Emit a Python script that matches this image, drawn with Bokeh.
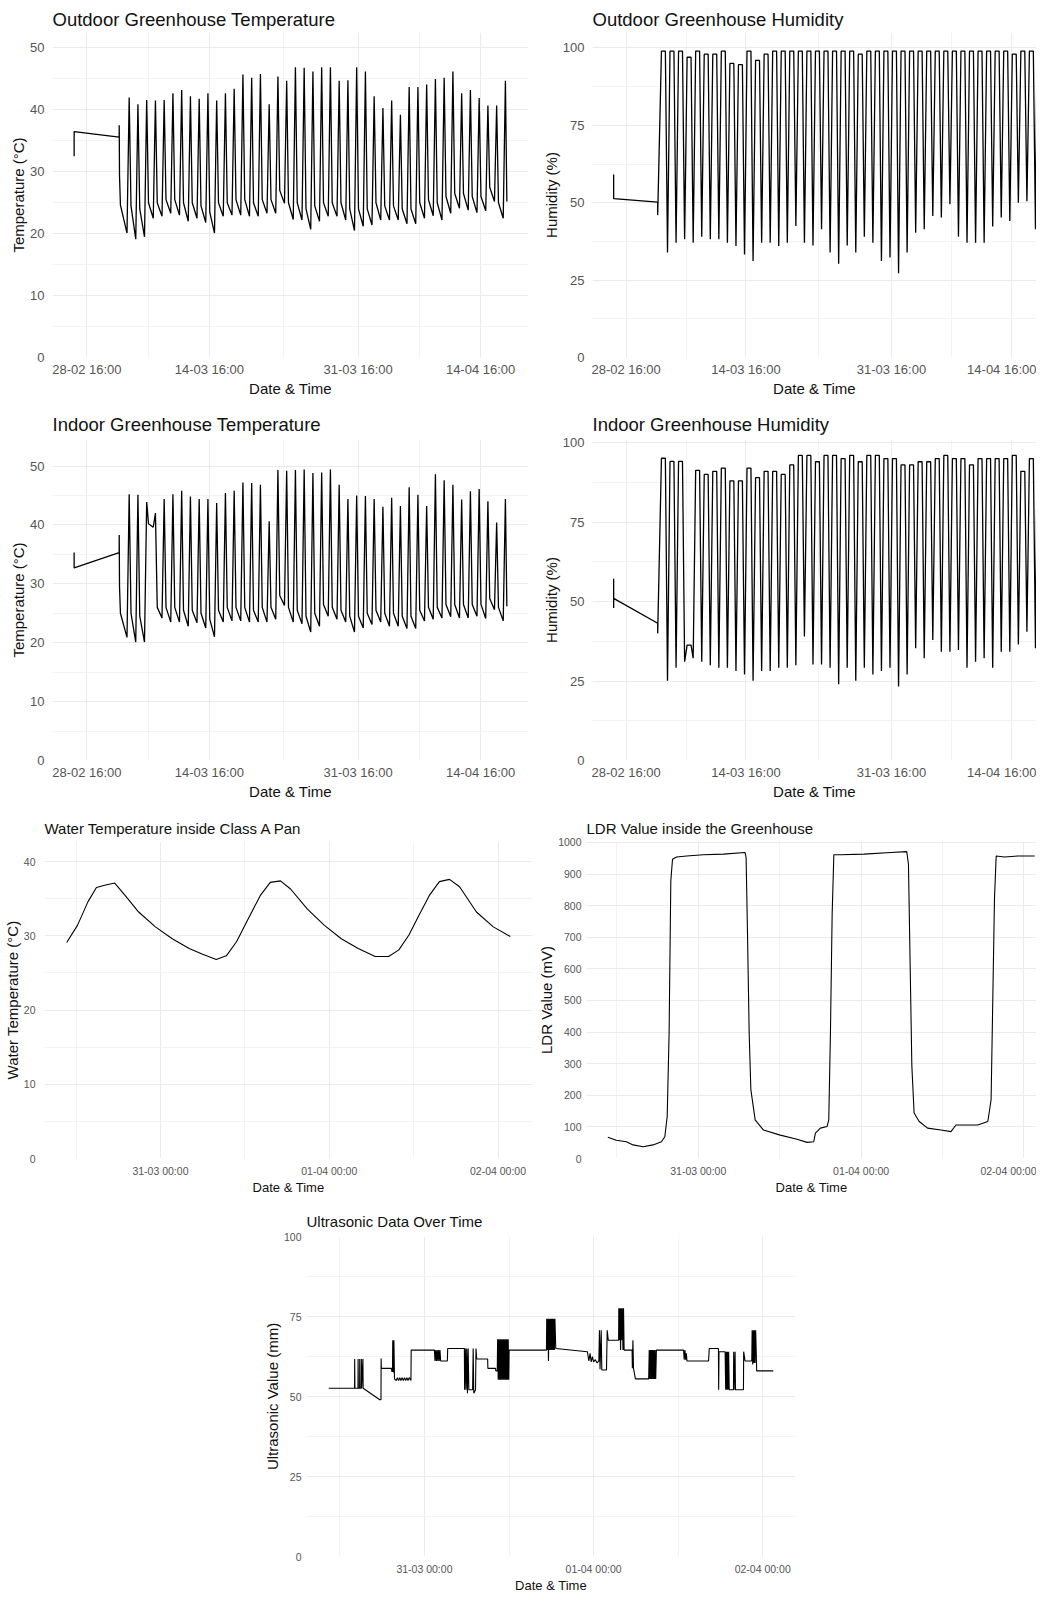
import pandas as pd
from bokeh.plotting import figure
from bokeh.layouts import column, row
from bokeh.models import FixedTicker, DatetimeTickFormatter, Range1d, Spacer
from bokeh.embed import file_html
from bokeh.resources import INLINE

YEAR = 2023

# ---------------- data ----------------
# Outdoor temperature (deg C): lead-in points, then per day (05-03 .. 17-04) a night minimum,
# a midday maximum and an evening value
out_temp_lead_time = ["02-27 05:00", "02-27 05:00", "03-04 08:30", "03-04 08:40", "03-04 09:30", "03-04 12:00"]
out_temp_lead_value = [32.5, 36.5, 35.6, 37.5, 29.3, 24.6]
out_temp_min = [20.1, 19.1, 19.5, 22.5, 22.8, 23.3, 23.0, 22.0, 22.5, 21.8,
                20.1, 22.8, 23.0, 23.0, 22.8, 22.8, 23.3, 23.3, 24.9, 22.3,
                22.2, 20.7, 22.0, 22.8, 22.8, 22.2, 20.5, 21.2, 21.4, 22.2,
                22.2, 22.2, 21.6, 21.6, 22.5, 22.9, 22.2, 23.3, 24.1, 23.8,
                23.4, 23.7, 25.2, 22.5]
out_temp_max = [42.0, 40.9, 41.6, 41.5, 41.6, 42.7, 43.2, 42.2, 41.8, 42.7,
                41.5, 42.7, 43.4, 45.7, 45.2, 45.8, 40.9, 45.4, 44.7, 46.9,
                46.8, 46.2, 46.9, 46.9, 44.7, 44.8, 46.9, 46.2, 42.2, 40.3,
                41.5, 39.2, 43.7, 43.7, 44.1, 45.0, 45.2, 46.2, 42.7, 43.2,
                41.9, 40.7, 40.7, 44.7]
out_temp_eve = [24.5, 24.0, 25.0, 25.0, 25.5, 25.5, 25.0, 25.0, 24.5, 23.5,
                25.0, 25.0, 25.5, 25.5, 25.0, 25.5, 25.5, 27.0, 25.0, 25.0,
                24.0, 24.5, 25.0, 25.0, 25.0, 24.0, 24.0, 24.0, 25.0, 24.5,
                24.5, 24.0, 24.0, 25.0, 25.5, 25.0, 26.0, 26.5, 26.5, 26.0,
                26.0, 27.5, 25.0]
out_temp_end = ("04-17 16:00", 25.2)

# Outdoor humidity (%): night maximum (plateau) and midday minimum per day
out_hum_lead_time = ["02-27 05:00", "02-27 05:00", "03-04 08:30", "03-04 08:30"]
out_hum_lead_value = [59.1, 51.3, 50.2, 46.0]
out_hum_max = [99, 99, 99, 97, 99, 98, 98, 99, 95, 94.6,
               99, 96, 98, 99, 99, 99, 99, 99, 99, 99,
               99, 99, 99, 98, 99, 99, 99, 99, 99, 99,
               99, 99, 99, 99, 99, 99, 99, 99, 99, 99,
               99, 98, 99, 99]
out_hum_min = [33.9, 37.1, 38.2, 37.1, 39.0, 38.2, 38.2, 37.1, 36.0, 33.3,
               31.2, 37.1, 37.1, 36.0, 37.1, 42.5, 37.1, 36.2, 41.4, 33.9,
               30.3, 36.2, 33.9, 39.0, 37.1, 31.2, 32.3, 27.2, 33.9, 40.3,
               41.4, 45.7, 45.2, 49.5, 39.0, 37.1, 37.1, 37.1, 42.3, 45.2,
               44.1, 50.0, 50.5, 41.4]
out_hum_end = ("04-17 16:00", 97.1)

# Indoor temperature (deg C)
in_temp_lead_time = ["02-27 05:00", "02-27 05:00", "03-04 08:30", "03-04 08:40", "03-04 09:30", "03-04 12:00"]
in_temp_lead_value = [35.3, 32.7, 35.3, 38.3, 29.5, 25.0]
in_temp_min = [20.9, 20.1, 20.1, 39.6, 24.2, 23.5, 23.5, 22.8, 23.4, 22.5,
               21.0, 23.5, 23.7, 23.7, 23.5, 23.5, 23.5, 24.0, 26.3, 23.5,
               23.2, 21.8, 22.8, 24.5, 24.0, 23.5, 21.8, 22.5, 23.1, 23.5,
               22.8, 22.8, 22.4, 22.4, 23.7, 24.0, 24.2, 24.4, 24.2, 24.2,
               24.5, 24.1, 25.6, 23.7]
in_temp_max = [45.2, 45.1, 43.9, 42.0, 44.4, 45.2, 45.8, 44.8, 44.4, 44.4,
               43.7, 45.4, 45.8, 47.2, 47.1, 46.8, 40.6, 49.3, 49.2, 49.3,
               49.4, 48.8, 48.9, 49.4, 46.8, 44.4, 45.0, 44.9, 44.4, 43.1,
               44.6, 43.2, 46.4, 45.1, 43.2, 48.6, 47.6, 46.8, 44.3, 45.7,
               46.1, 44.0, 40.4, 44.4]
in_temp_eve = [25.0, 24.5, 40.2, 26.0, 26.0, 26.0, 25.5, 25.5, 25.0, 24.0,
               25.5, 26.0, 26.0, 26.0, 25.5, 26.0, 26.0, 28.0, 26.0, 25.5,
               24.5, 25.0, 26.5, 26.0, 25.5, 24.5, 24.5, 25.0, 25.5, 25.0,
               25.0, 24.5, 24.5, 25.5, 26.0, 26.0, 26.5, 26.5, 26.5, 26.5,
               26.5, 27.5, 26.0]
in_temp_end = ("04-17 16:00", 26.2)

# Indoor humidity (%)
in_hum_lead_time = ["02-27 05:00", "02-27 05:00", "02-27 05:00", "03-04 08:30", "03-04 08:30"]
in_hum_lead_value = [57.2, 48.0, 51.0, 43.2, 40.0]
in_hum_max = [95.1, 94.1, 94.1, 36.3, 91.3, 90, 91, 92, 88, 88,
              92, 89, 91, 91, 90, 93, 96, 96, 94, 96,
              96, 95, 96, 94, 96, 96, 95, 95, 93, 93,
              94, 94, 95, 96, 95, 95, 93, 95, 95, 95,
              95, 96, 91, 95]
in_hum_min = [25.1, 29.2, 31.1, 32.2, 31.1, 30.0, 29.2, 29.2, 28.2, 27.1,
              25.1, 28.2, 28.2, 29.2, 29.2, 30.0, 39.0, 30.2, 30.2, 29.2,
              24.0, 29.2, 25.1, 29.2, 27.1, 28.2, 29.2, 23.3, 27.1, 35.3,
              32.2, 37.9, 34.2, 34.2, 34.8, 29.2, 31.1, 32.2, 29.2, 34.2,
              34.2, 36.5, 40.5, 35.3]
in_hum_end = ("04-17 16:00", 90.1)

# Water temperature inside Class A pan (deg C)
water_time = ["03-30 10:40", "03-30 12:12", "03-30 13:42", "03-30 14:54", "03-30 16:04", "03-30 17:30",
              "03-30 19:00", "03-30 20:54", "03-30 23:17", "03-31 01:41", "03-31 04:05", "03-31 06:00",
              "03-31 07:56", "03-31 09:22", "03-31 10:49", "03-31 12:16", "03-31 14:11", "03-31 15:37",
              "03-31 17:04", "03-31 18:30", "03-31 20:54", "03-31 23:19", "04-01 01:43", "04-01 04:07",
              "04-01 06:32", "04-01 08:27", "04-01 09:54", "04-01 11:20", "04-01 12:47", "04-01 14:13",
              "04-01 15:40", "04-01 17:06", "04-01 18:32", "04-01 20:56", "04-01 23:20", "04-02 01:45"]
water_value = [29.1, 31.4, 34.6, 36.5, 36.8, 37.1, 35.4, 33.2, 31.2, 29.6, 28.3, 27.5,
               26.8, 27.3, 29.2, 31.9, 35.4, 37.2, 37.4, 36.3, 33.6, 31.4, 29.6, 28.3,
               27.2, 27.2, 28.1, 30.1, 32.8, 35.4, 37.3, 37.6, 36.6, 33.2, 31.2, 29.9]

# LDR value (mV)
ldr_time = ["03-30 10:40", "03-30 11:55", "03-30 13:24", "03-30 14:23", "03-30 15:52", "03-30 17:20",
            "03-30 18:34", "03-30 19:04", "03-30 19:25", "03-30 19:42", "03-30 19:57", "03-30 20:12",
            "03-30 20:48", "03-30 22:17", "03-31 00:44", "03-31 03:42", "03-31 06:54", "03-31 07:03",
            "03-31 07:15", "03-31 07:30", "03-31 07:45", "03-31 08:23", "03-31 09:37", "03-31 12:05",
            "03-31 14:33", "03-31 16:02", "03-31 17:01", "03-31 17:16", "03-31 18:00", "03-31 18:59",
            "03-31 19:14", "03-31 19:29", "03-31 19:44", "03-31 19:59", "03-31 20:58", "04-01 00:25",
            "04-01 04:22", "04-01 06:44", "04-01 06:59", "04-01 07:14", "04-01 07:29", "04-01 07:49",
            "04-01 08:34", "04-01 09:48", "04-01 11:46", "04-01 13:15", "04-01 13:59", "04-01 15:13",
            "04-01 17:12", "04-01 18:41", "04-01 19:10", "04-01 19:25", "04-01 19:40", "04-01 19:55",
            "04-01 21:09", "04-01 23:07", "04-02 01:35"]
ldr_value = [67, 58, 53, 43, 37, 43, 53, 69, 133, 399,
             878, 947, 954, 957, 961, 963, 968, 952, 718, 399,
             218, 122, 90, 74, 61, 51, 53, 80, 96, 101,
             122, 399, 771, 961, 961, 963, 968, 971, 931, 612,
             293, 144, 117, 96, 90, 85, 106, 106, 106, 117,
             186, 505, 824, 957, 954, 957, 957]

# Ultrasonic value (mm)
ultra_time = [
    "03-30 10:25", "03-30 14:05", "03-30 14:06", "03-30 14:08", "03-30 14:34", "03-30 14:35", "03-30 14:37",
    "03-30 14:48", "03-30 14:49", "03-30 14:51", "03-30 15:02", "03-30 15:03", "03-30 15:05", "03-30 15:16",
    "03-30 15:18", "03-30 17:40", "03-30 17:50", "03-30 17:51", "03-30 17:53", "03-30 19:20", "03-30 19:22",
    "03-30 19:28", "03-30 19:30", "03-30 19:36", "03-30 19:40", "03-30 19:45",
    "03-30 20:00", "03-30 20:10", "03-30 20:20", "03-30 20:30", "03-30 20:40", "03-30 20:50", "03-30 21:00",
    "03-30 21:10", "03-30 21:20", "03-30 21:30", "03-30 21:40", "03-30 21:50", "03-30 22:05",
    "03-30 22:07", "03-31 01:25",
    "03-31 01:30", "03-31 01:36", "03-31 01:42", "03-31 01:48", "03-31 01:54", "03-31 02:00", "03-31 02:06",
    "03-31 02:12", "03-31 02:18", "03-31 03:15", "03-31 03:18", "03-31 05:40",
    "03-31 05:42", "03-31 05:48", "03-31 05:54", "03-31 06:00", "03-31 06:06", "03-31 06:12", "03-31 06:18",
    "03-31 06:50", "03-31 06:55", "03-31 07:00", "03-31 07:15", "03-31 07:19", "03-31 07:25", "03-31 08:58",
    "03-31 09:00", "03-31 10:05", "03-31 10:08", "03-31 10:20",
    "03-31 10:23", "03-31 10:28", "03-31 10:33", "03-31 10:38", "03-31 10:43", "03-31 10:48", "03-31 10:53",
    "03-31 10:58", "03-31 11:03", "03-31 11:08", "03-31 11:13", "03-31 11:18", "03-31 11:23", "03-31 11:28",
    "03-31 11:33", "03-31 11:38", "03-31 11:43", "03-31 11:48", "03-31 11:53", "03-31 11:58",
    "03-31 12:01", "03-31 17:19",
    "03-31 17:21", "03-31 17:26", "03-31 17:31", "03-31 17:36", "03-31 17:41", "03-31 17:46", "03-31 17:51",
    "03-31 17:56", "03-31 18:01", "03-31 18:06", "03-31 18:11", "03-31 18:16", "03-31 18:21", "03-31 18:26",
    "03-31 18:31", "03-31 18:38", "03-31 23:07",
    "03-31 23:20", "03-31 23:30", "03-31 23:40", "03-31 23:50", "04-01 00:00", "04-01 00:15", "04-01 00:30",
    "04-01 00:45", "04-01 00:50", "04-01 00:55", "04-01 01:05", "04-01 01:10", "04-01 01:50", "04-01 01:56",
    "04-01 02:05", "04-01 03:33",
    "04-01 03:35", "04-01 03:40", "04-01 03:45", "04-01 03:50", "04-01 03:55", "04-01 04:00", "04-01 04:05",
    "04-01 04:10", "04-01 04:15", "04-01 04:20", "04-01 04:32", "04-01 05:28", "04-01 05:30", "04-01 05:35",
    "04-01 05:40", "04-01 05:56", "04-01 07:49",
    "04-01 07:54", "04-01 07:59", "04-01 08:04", "04-01 08:09", "04-01 08:14", "04-01 08:19", "04-01 08:24",
    "04-01 08:29", "04-01 08:34", "04-01 08:39", "04-01 08:44", "04-01 08:49", "04-01 08:55",
    "04-01 12:46", "04-01 12:52", "04-01 12:58", "04-01 13:04", "04-01 13:10", "04-01 13:15",
    "04-01 16:19", "04-01 16:25", "04-01 17:43",
    "04-01 17:45", "04-01 17:48", "04-01 18:40", "04-01 18:45", "04-01 18:50", "04-01 18:55", "04-01 19:00",
    "04-01 19:05", "04-01 19:10", "04-01 19:15", "04-01 19:51", "04-01 19:53", "04-01 19:56", "04-01 20:05",
    "04-01 20:08", "04-01 21:16", "04-01 21:18", "04-01 21:30", "04-01 22:27",
    "04-01 22:30", "04-01 22:35", "04-01 22:40", "04-01 22:45", "04-01 22:50", "04-01 22:55", "04-01 23:00",
    "04-01 23:09", "04-02 01:30"]
ultra_value = [
    52.6, 52.6, 61.7, 52.6, 52.6, 61.7, 52.6,
    52.6, 61.7, 52.6, 52.6, 61.7, 52.6, 61.7,
    52.6, 49.0, 49.0, 61.9, 58.8, 58.8, 57.8,
    57.8, 67.6, 57.5, 67.6, 55.5,
    55.0, 55.9, 55.0, 55.9, 55.0, 55.9, 55.0,
    55.9, 55.0, 55.9, 55.0, 55.9, 55.0,
    64.5, 64.5,
    61.1, 64.5, 61.1, 64.5, 61.1, 64.5, 61.1,
    64.5, 61.1, 61.1, 65.0, 65.0,
    52.1, 65.0, 52.1, 65.0, 51.0, 65.0, 52.1,
    52.1, 65.0, 51.0, 52.1, 65.0, 61.7, 61.7,
    58.8, 58.8, 58.0, 58.0,
    67.9, 55.2, 67.9, 55.2, 67.9, 55.2, 67.9,
    55.2, 67.9, 55.2, 67.9, 55.2, 67.9, 55.2,
    67.9, 55.2, 67.9, 55.2, 67.9, 55.2,
    64.5, 64.5,
    74.3, 64.5, 74.3, 61.1, 74.3, 64.5, 74.3,
    64.5, 74.3, 64.5, 74.3, 64.5, 74.3, 64.5,
    74.3, 65.0, 64.0,
    61.1, 63.5, 60.8, 62.5, 60.8, 61.5, 60.5,
    61.1, 70.7, 58.5, 70.7, 58.3, 58.3, 70.7,
    67.6, 67.6,
    77.6, 67.6, 77.6, 64.5, 77.6, 67.6, 77.6,
    64.5, 77.6, 64.5, 64.5, 64.5, 58.8, 67.6,
    58.8, 55.5, 55.5,
    64.5, 55.5, 64.5, 55.5, 64.5, 55.5, 64.5,
    55.5, 64.5, 55.5, 64.5, 55.5, 64.5,
    64.5, 61.5, 64.5, 61.5, 63.5, 61.1,
    61.1, 65.0, 65.0,
    52.1, 64.0, 64.0, 52.1, 64.0, 52.1, 64.0,
    52.1, 64.0, 52.1, 52.1, 64.0, 52.1, 64.0,
    52.1, 52.1, 64.0, 61.1, 61.1,
    70.7, 60.0, 70.7, 60.5, 70.7, 60.5, 70.7,
    58.0, 58.0]

# Axis ticks
long_ticks = ["02-28 16:00", "03-14 16:00", "03-31 16:00", "04-14 16:00"]
long_minor = ["03-07 16:00", "03-23 04:00", "04-07 16:00"]
short_ticks = ["03-31 00:00", "04-01 00:00", "04-02 00:00"]
short_minor = ["03-30 12:00", "03-31 12:00", "04-01 12:00"]
temp_ticks = [0, 10, 20, 30, 40, 50]
temp_minor = [5, 15, 25, 35, 45]
hum_ticks = [0, 25, 50, 75, 100]
hum_minor = [12.5, 37.5, 62.5, 87.5]
water_ticks = [0, 10, 20, 30, 40]
water_minor = [5, 15, 25, 35]
ldr_ticks = [0, 100, 200, 300, 400, 500, 600, 700, 800, 900, 1000]

# ---------------- helpers ----------------
def stamp(s):
    return pd.Timestamp(f"{YEAR}-{s}")

def ms(s):
    return stamp(s).value // 10**6

days = pd.date_range(f"{YEAR}-03-05", periods=len(out_temp_max), freq="D")
HR = lambda h: pd.Timedelta(hours=h)

def temp_series(lead_t, lead_v, mins, maxs, eves, end):
    t = [stamp(s) for s in lead_t]
    v = list(lead_v)
    for i, (d, lo, hi) in enumerate(zip(days, mins, maxs)):
        t += [d + HR(6), d + HR(12)]
        v += [lo, hi]
        if i < len(eves):
            t.append(d + HR(17))
            v.append(eves[i])
    t.append(stamp(end[0]))
    v.append(end[1])
    return t, v

def hum_series(lead_t, lead_v, maxs, mins, end):
    t = [stamp(s) for s in lead_t]
    v = list(lead_v)
    for d, hi, lo in zip(days, maxs, mins):
        t += [d - HR(5), d + HR(6), d + HR(12)]
        v += [hi, hi, lo]
    t.append(stamp(end[0]))
    v.append(end[1])
    return t, v

def padded(tlist, frac=0.05):
    t0, t1 = min(tlist), max(tlist)
    pad = (t1 - t0) * frac
    return t0 - pad, t1 + pad

FONT = "Liberation Sans"

def make_fig(w, h, bl, br, bt, bb, xr, yr, title, ylab, yt, ym, xt, xm, small,
             title_standoff=6, ylab_standoff=8):
    p = figure(width=w, height=h, x_axis_type="datetime", output_backend="svg",
               toolbar_location=None, x_range=Range1d(*xr), y_range=Range1d(*yr),
               min_border_left=bl, min_border_right=br, min_border_top=bt,
               min_border_bottom=bb, background_fill_color="white",
               border_fill_color="white")
    p.outline_line_color = None
    p.title.text = title
    p.title.text_font = FONT
    p.title.text_font_size = "15px" if small else "18.5px"
    p.title.text_font_style = "normal"
    p.title.text_color = "#111111"
    p.title.align = "left"
    p.title.standoff = title_standoff
    for ax in (p.xaxis[0], p.yaxis[0]):
        ax.axis_line_color = None
        ax.major_tick_line_color = None
        ax.minor_tick_line_color = None
        ax.major_tick_out = 0
        ax.major_tick_in = 0
        ax.minor_tick_out = 0
        ax.minor_tick_in = 0
        ax.major_label_text_font = FONT
        ax.axis_label_text_font = FONT
        ax.major_label_text_color = "#555555"
        ax.axis_label_text_color = "#111111"
        ax.axis_label_text_font_style = "normal"
        ax.axis_label_standoff = 0
    p.xaxis.major_label_text_font_size = "10.5px" if small else "13px"
    p.yaxis.major_label_text_font_size = "10.5px" if small else "13px"
    p.xaxis.axis_label_text_font_size = "13px" if small else "15px"
    p.yaxis.axis_label_text_font_size = "15px"
    p.xaxis.major_label_standoff = 6 if small else 4
    p.yaxis.major_label_standoff = ylab_standoff
    p.xaxis.axis_label = "Date & Time"
    p.yaxis.axis_label = ylab
    p.xaxis.ticker = FixedTicker(ticks=[ms(s) for s in xt], minor_ticks=[ms(s) for s in xm])
    fmt = "%d-%m %H:%M"
    p.xaxis.formatter = DatetimeTickFormatter(
        microseconds=fmt, milliseconds=fmt, seconds=fmt, minsec=fmt, minutes=fmt,
        hourmin=fmt, hours=fmt, days=fmt, months=fmt, years=fmt,
        strip_leading_zeros=False)
    p.yaxis.ticker = FixedTicker(ticks=yt, minor_ticks=ym)
    for g in (p.xgrid[0], p.ygrid[0]):
        g.grid_line_color = "#EBEBEB"
        g.grid_line_width = 1
        g.minor_grid_line_color = "#F3F3F3"
        g.minor_grid_line_width = 1
    return p

# ---------------- series ----------------
ot_t, ot_v = temp_series(out_temp_lead_time, out_temp_lead_value, out_temp_min, out_temp_max, out_temp_eve, out_temp_end)
oh_t, oh_v = hum_series(out_hum_lead_time, out_hum_lead_value, out_hum_max, out_hum_min, out_hum_end)
it_t, it_v = temp_series(in_temp_lead_time, in_temp_lead_value, in_temp_min, in_temp_max, in_temp_eve, in_temp_end)
ih_t, ih_v = hum_series(in_hum_lead_time, in_hum_lead_value, in_hum_max, in_hum_min, in_hum_end)
wt_t = [stamp(s) for s in water_time]
ld_t = [stamp(s) for s in ldr_time]
us_t = [stamp(s) for s in ultra_time]

long_range = padded(ot_t)
long_range_right = (long_range[0], long_range[1] - pd.Timedelta(days=2.52))
ldr_range = padded(ld_t)
ldr_range = (ldr_range[0], ldr_range[1] - HR(2.87))

LINE_TOP = dict(line_color="black", line_width=1.3)
LINE = dict(line_color="black", line_width=1.1)

p1 = make_fig(539, 400, 52, 11, 32, 43, long_range, (0, 52.5),
              "Outdoor Greenhouse Temperature", "Temperature (°C)",
              temp_ticks, temp_minor, long_ticks, long_minor, False)
p1.line(ot_t, ot_v, **LINE_TOP)

p2 = make_fig(497, 400, 50, 0, 32, 43, long_range_right, (0, 105),
              "Outdoor Greenhouse Humidity", "Humidity (%)",
              hum_ticks, hum_minor, long_ticks, long_minor, False)
p2.line(oh_t, oh_v, **LINE_TOP)

p3 = make_fig(539, 404, 52, 11, 39, 44, long_range, (0, 54.5),
              "Indoor Greenhouse Temperature", "Temperature (°C)",
              temp_ticks, temp_minor, long_ticks, long_minor, False, title_standoff=9)
p3.line(it_t, it_v, **LINE_TOP)

p4 = make_fig(497, 404, 50, 0, 39, 44, long_range_right, (0, 101),
              "Indoor Greenhouse Humidity", "Humidity (%)",
              hum_ticks, hum_minor, long_ticks, long_minor, False, title_standoff=9)
p4.line(ih_t, ih_v, **LINE_TOP)

p5 = make_fig(535, 395, 41, 3, 37, 41, padded(wt_t), (0, 42.7),
              "Water Temperature inside Class A Pan", "Water Temperature (°C)",
              water_ticks, water_minor, short_ticks, short_minor, True,
              title_standoff=10, ylab_standoff=9)
p5.line(wt_t, water_value, **LINE)

p6 = make_fig(501, 395, 48, 0, 37, 41, ldr_range, (0, 1003),
              "LDR Value inside the Greenhouse", "LDR Value (mV)",
              ldr_ticks, [], short_ticks, short_minor, True,
              title_standoff=10, ylab_standoff=5)
p6.line(ld_t, ldr_value, **LINE)

p7 = make_fig(538, 397, 45, 3, 37, 40, padded(us_t), (0, 100),
              "Ultrasonic Data Over Time", "Ultrasonic Value (mm)",
              hum_ticks, hum_minor, short_ticks, short_minor, True,
              title_standoff=13, ylab_standoff=5)
p7.line(us_t, ultra_value, **LINE)

layout = column(row(p1, p2), row(p3, p4), row(p5, p6),
                row(Spacer(width=260, height=397), p7))

open("out.html", "w").write(file_html(layout, INLINE))
